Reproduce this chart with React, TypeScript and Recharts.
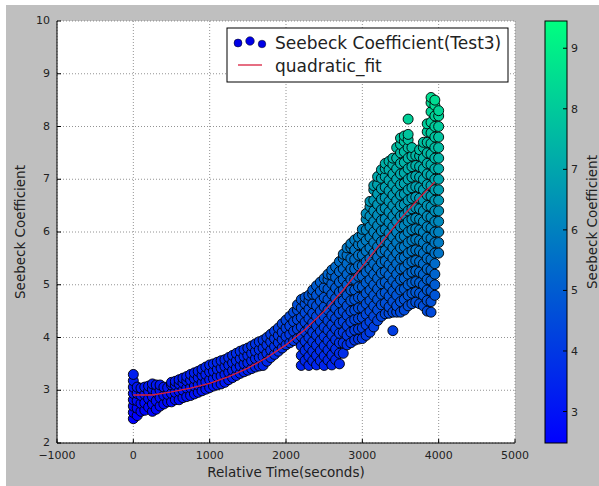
import React from 'react';
import { ScatterChart, Scatter, XAxis, YAxis, CartesianGrid } from 'recharts';

// sample times (s) and the Seebeck readings taken around each of them
const sampleTimes = [
  0, 50, 100, 150, 200, 250, 300, 350, 400, 450,
  500, 550, 600, 650, 700, 750, 800, 850, 900, 950,
  1000, 1050, 1100, 1150, 1200, 1250, 1300, 1350, 1400, 1450,
  1500, 1550, 1600, 1650, 1700, 1750, 1800, 1850, 1900, 1950,
  2000, 2050, 2100, 2150, 2200, 2250, 2300, 2350, 2400, 2450,
  2500, 2550, 2600, 2650, 2700, 2750, 2800, 2850, 2900, 2950,
  3000, 3050, 3100, 3150, 3200, 3250, 3300, 3350, 3400, 3450,
  3500, 3550, 3600, 3650, 3700, 3750, 3800, 3850, 3900, 3950, 4000,
];

const seebeckByTime = [
  [2.46, 2.58, 2.7, 2.82, 2.94, 3.06, 3.18, 3.3],
  [2.52, 2.66, 2.8, 2.94, 3.06],
  [2.6, 2.75, 2.9, 3.04],
  [2.62, 2.76, 2.92, 3.06],
  [2.68, 2.84, 2.98, 3.08],
  [2.6, 2.74, 2.88, 3.02, 3.12],
  [2.64, 2.8, 2.96, 3.1],
  [2.7, 2.86, 3.0, 3.1],
  [2.74, 2.9, 3.06],
  [2.78, 2.92, 3.05],
  [2.78, 2.94, 3.1, 3.15],
  [2.82, 2.96, 3.1, 3.17],
  [2.82, 2.98, 3.12, 3.2],
  [2.86, 3.0, 3.14, 3.23],
  [2.88, 3.04, 3.18, 3.26],
  [2.9, 3.05, 3.19, 3.3],
  [2.93, 3.08, 3.22, 3.33],
  [2.96, 3.1, 3.24, 3.36],
  [2.99, 3.14, 3.28, 3.4],
  [3.02, 3.16, 3.3, 3.44],
  [3.05, 3.2, 3.35, 3.48],
  [3.08, 3.22, 3.36, 3.5],
  [3.1, 3.26, 3.4, 3.53],
  [3.12, 3.27, 3.42, 3.56],
  [3.15, 3.3, 3.45, 3.58],
  [3.2, 3.34, 3.48, 3.62],
  [3.24, 3.38, 3.52, 3.66],
  [3.28, 3.42, 3.56, 3.7],
  [3.32, 3.46, 3.6, 3.74],
  [3.35, 3.5, 3.64, 3.77],
  [3.38, 3.52, 3.66, 3.8],
  [3.41, 3.56, 3.7, 3.84],
  [3.44, 3.6, 3.74, 3.88],
  [3.46, 3.62, 3.77, 3.92],
  [3.47, 3.64, 3.8, 3.95],
  [3.55, 3.7, 3.86, 4.0],
  [3.62, 3.76, 3.92, 4.06],
  [3.68, 3.83, 3.98, 4.12],
  [3.74, 3.9, 4.04, 4.18],
  [3.8, 3.96, 4.1, 4.26],
  [3.86, 4.02, 4.18, 4.33],
  [3.9, 4.06, 4.22, 4.4],
  [3.94, 4.12, 4.3, 4.48],
  [3.98, 4.16, 4.34, 4.52, 4.62],
  [3.47, 3.66, 3.84, 4.02, 4.2, 4.38, 4.56, 4.72],
  [3.56, 3.75, 3.93, 4.11, 4.29, 4.47, 4.64, 4.76],
  [3.47, 3.64, 3.82, 4.0, 4.18, 4.36, 4.54, 4.7, 4.8],
  [3.56, 3.74, 3.92, 4.1, 4.28, 4.46, 4.64, 4.82, 4.9],
  [3.48, 3.66, 3.85, 4.04, 4.22, 4.4, 4.6, 4.8, 4.98],
  [3.56, 3.75, 3.94, 4.12, 4.31, 4.5, 4.69, 4.88, 5.05],
  [3.47, 3.65, 3.84, 4.02, 4.2, 4.4, 4.58, 4.76, 4.95, 5.12],
  [3.57, 3.76, 3.94, 4.14, 4.32, 4.52, 4.72, 4.92, 5.1, 5.2],
  [3.48, 3.67, 3.86, 4.05, 4.24, 4.42, 4.62, 4.82, 5.02, 5.18, 5.28],
  [3.58, 3.78, 3.96, 4.16, 4.36, 4.55, 4.74, 4.94, 5.14, 5.34],
  [3.5, 3.7, 3.9, 4.08, 4.27, 4.46, 4.66, 4.86, 5.05, 5.25, 5.44],
  [3.7, 3.9, 4.1, 4.3, 4.5, 4.7, 4.9, 5.1, 5.3, 5.5, 5.58],
  [3.86, 4.04, 4.22, 4.42, 4.6, 4.8, 5.0, 5.2, 5.4, 5.56, 5.7],
  [3.9, 4.1, 4.3, 4.5, 4.7, 4.9, 5.1, 5.3, 5.5, 5.7, 5.78],
  [3.95, 4.14, 4.34, 4.52, 4.72, 4.9, 5.1, 5.3, 5.48, 5.66, 5.85],
  [3.97, 4.16, 4.36, 4.56, 4.76, 4.96, 5.16, 5.36, 5.56, 5.76, 5.9],
  [3.98, 4.18, 4.38, 4.56, 4.76, 4.96, 5.16, 5.36, 5.56, 5.76, 5.95, 6.05],
  [4.04, 4.24, 4.44, 4.64, 4.84, 5.04, 5.24, 5.44, 5.64, 5.84, 6.04, 6.24, 6.35],
  [4.1, 4.3, 4.5, 4.7, 4.9, 5.1, 5.3, 5.5, 5.7, 5.9, 6.1, 6.3, 6.48, 6.58],
  [4.2, 4.4, 4.6, 4.8, 5.0, 5.2, 5.4, 5.6, 5.8, 6.0, 6.2, 6.4, 6.6, 6.8, 6.88],
  [4.32, 4.52, 4.72, 4.92, 5.12, 5.32, 5.52, 5.72, 5.92, 6.12, 6.32, 6.52, 6.72, 6.9, 7.05],
  [4.4, 4.62, 4.82, 5.02, 5.22, 5.42, 5.62, 5.82, 6.02, 6.22, 6.42, 6.62, 6.82, 7.02, 7.18],
  [4.45, 4.65, 4.85, 5.05, 5.25, 5.45, 5.65, 5.85, 6.05, 6.25, 6.45, 6.65, 6.85, 7.05, 7.2, 7.3],
  [4.46, 4.58, 4.78, 4.98, 5.18, 5.38, 5.58, 5.78, 5.98, 6.18, 6.38, 6.58, 6.78, 6.98, 7.18, 7.34],
  [4.13, 4.48, 4.68, 4.88, 5.08, 5.3, 5.5, 5.7, 5.9, 6.1, 6.3, 6.5, 6.7, 6.9, 7.1, 7.28, 7.4],
  [4.48, 4.6, 4.8, 5.0, 5.2, 5.4, 5.6, 5.8, 6.0, 6.2, 6.4, 6.6, 6.8, 7.0, 7.2, 7.4, 7.6],
  [4.48, 4.68, 4.9, 5.1, 5.3, 5.5, 5.7, 5.9, 6.1, 6.3, 6.5, 6.7, 6.9, 7.1, 7.3, 7.5, 7.66, 7.78],
  [4.52, 4.72, 4.92, 5.12, 5.32, 5.52, 5.72, 5.92, 6.12, 6.32, 6.52, 6.72, 6.92, 7.12, 7.32, 7.52, 7.72, 7.82],
  [4.6, 4.8, 5.0, 5.2, 5.4, 5.6, 5.8, 6.0, 6.2, 6.4, 6.6, 6.8, 7.0, 7.2, 7.4, 7.6, 7.75, 7.85, 8.14],
  [4.64, 4.84, 5.04, 5.24, 5.44, 5.64, 5.84, 6.04, 6.24, 6.44, 6.64, 6.84, 7.04, 7.24, 7.44, 7.6],
  [4.67, 4.86, 5.06, 5.26, 5.46, 5.66, 5.86, 6.06, 6.26, 6.46, 6.66, 6.86, 7.06, 7.26, 7.45],
  [4.64, 4.84, 5.04, 5.24, 5.44, 5.64, 5.84, 6.04, 6.24, 6.44, 6.64, 6.84, 7.04, 7.24, 7.44, 7.56],
  [4.6, 4.8, 5.0, 5.2, 5.4, 5.6, 5.8, 6.0, 6.2, 6.4, 6.6, 6.8, 7.0, 7.2, 7.4, 7.6, 7.7],
  [4.5, 4.7, 4.9, 5.1, 5.3, 5.5, 5.7, 5.9, 6.1, 6.3, 6.5, 6.7, 6.9, 7.1, 7.3, 7.5, 7.7, 7.9, 8.05],
  [4.48, 4.68, 4.88, 5.08, 5.28, 5.48, 5.68, 5.88, 6.08, 6.28, 6.48, 6.68, 6.88, 7.08, 7.28, 7.48, 7.68, 7.88, 8.08, 8.28, 8.45, 8.55],
  [4.8, 5.0, 5.2, 5.4, 5.6, 5.8, 6.0, 6.2, 6.4, 6.6, 6.8, 7.0, 7.2, 7.4, 7.6, 7.8, 8.0, 8.2, 8.4, 8.5],
  [5.6, 5.8, 6.0, 6.2, 6.4, 6.6, 6.8, 7.0, 7.2, 7.4, 7.6, 7.8, 8.0, 8.2, 8.3],
];

// quadratic fit curve
const fitTimes = [0, 250, 500, 750, 1000, 1250, 1500, 1750, 2000, 2250, 2500, 2750, 3000, 3250, 3500, 3750, 3950];
const fitValues = [2.91, 2.91, 2.97, 3.04, 3.13, 3.26, 3.42, 3.62, 3.86, 4.15, 4.5, 4.9, 5.35, 5.8, 6.25, 6.65, 6.95];

const xTicks = [-1000, 0, 1000, 2000, 3000, 4000, 5000];
const yTicks = [2, 3, 4, 5, 6, 7, 8, 9, 10];
const colorTicks = [3, 4, 5, 6, 7, 8, 9];
const colorMin = 2.48;
const colorMax = 9.45;

const FONT = '"DejaVu Sans", Verdana, sans-serif';

const points = sampleTimes.flatMap((t, i) => seebeckByTime[i].map((v) => ({ t, v })));
const fitPoints = fitTimes.map((t, i) => ({ t, v: fitValues[i] }));

// matplotlib "winter" colormap
const winter = (v: number) => {
  const f = Math.max(0, Math.min(1, (v - colorMin) / (colorMax - colorMin)));
  return `rgb(0,${Math.round(255 * f)},${Math.round(255 * (1 - 0.5 * f))})`;
};

const fmt = (n: number) => (n < 0 ? `\u2212${Math.abs(n)}` : `${n}`);

const BottomTick = ({ x, y, payload }: any) => (
  <g>
    <line x1={x} x2={x} y1={y} y2={y - 4} stroke="#000" />
    <text x={x} y={y + 16} textAnchor="middle" fontSize={11} fill="#222" fontFamily={FONT}>
      {fmt(payload.value)}
    </text>
  </g>
);

const TopTick = ({ x, y }: any) => <line x1={x} x2={x} y1={y} y2={y + 4} stroke="#000" />;

const LeftTick = ({ x, y, payload }: any) => (
  <g>
    <line x1={x} x2={x + 4} y1={y} y2={y} stroke="#000" />
    <text x={x - 7} y={y + 3} textAnchor="end" fontSize={11} fill="#222" fontFamily={FONT}>
      {payload.value}
    </text>
  </g>
);

const RightTick = ({ x, y }: any) => <line x1={x} x2={x - 4} y1={y} y2={y} stroke="#000" />;

const Dot = ({ cx, cy, payload }: any) => (
  <circle cx={cx} cy={cy} r={5} fill={winter(payload.v)} stroke="#000" strokeOpacity={0.9} strokeWidth={1} />
);

// colorbar geometry (relative to the figure)
const BAR = { x: 539, y: 16, w: 22, h: 422 };
const barY = (v: number) => BAR.y + BAR.h - ((v - colorMin) / (colorMax - colorMin)) * BAR.h;

export default function App() {
  return (
    <div
      style={{
        position: 'absolute',
        left: 6,
        top: 5,
        width: 593,
        height: 481,
        background: '#bfbfbf',
        fontFamily: FONT,
      }}
    >
      <ScatterChart width={593} height={481} margin={{ top: 16, right: 84, bottom: 0, left: 0 }}>
        <CartesianGrid fill="#fff" fillOpacity={1} stroke="#777" strokeDasharray="1 2" strokeWidth={0.8} />
        <XAxis
          dataKey="t"
          type="number"
          domain={[-1000, 5000]}
          ticks={xTicks}
          interval={0}
          height={43}
          tickSize={0}
          tickMargin={0}
          tickLine={false}
          axisLine={{ stroke: '#000' }}
          tick={<BottomTick />}
        />
        <XAxis
          xAxisId="top"
          orientation="top"
          dataKey="t"
          type="number"
          domain={[-1000, 5000]}
          ticks={xTicks}
          interval={0}
          height={0}
          tickSize={0}
          tickMargin={0}
          tickLine={false}
          axisLine={{ stroke: '#000' }}
          tick={<TopTick />}
        />
        <YAxis
          dataKey="v"
          type="number"
          domain={[2, 10]}
          ticks={yTicks}
          interval={0}
          width={51}
          tickSize={0}
          tickMargin={0}
          tickLine={false}
          axisLine={{ stroke: '#000' }}
          tick={<LeftTick />}
        />
        <YAxis
          yAxisId="right"
          orientation="right"
          dataKey="v"
          type="number"
          domain={[2, 10]}
          ticks={yTicks}
          interval={0}
          width={0}
          tickSize={0}
          tickMargin={0}
          tickLine={false}
          axisLine={{ stroke: '#000' }}
          tick={<RightTick />}
        />
        <Scatter
          name="Seebeck Coefficient(Test3)"
          data={points}
          shape={<Dot />}
          isAnimationActive={false}
        />
        <Scatter
          name="quadratic_fit"
          data={fitPoints}
          line={{ stroke: '#d8203e', strokeWidth: 1.3 }}
          lineJointType="linear"
          shape={() => <g />}
          isAnimationActive={false}
        />
      </ScatterChart>

      <svg
        width={593}
        height={481}
        style={{ position: 'absolute', left: 0, top: 0, pointerEvents: 'none' }}
        fontFamily={FONT}
      >
        <defs>
          <linearGradient id="winterGrad" x1="0" y1="1" x2="0" y2="0">
            <stop offset="0" stopColor="#0000ff" />
            <stop offset="1" stopColor="#00ff80" />
          </linearGradient>
        </defs>

        {/* axis titles */}
        <text x={280} y={472} textAnchor="middle" fontSize={13.5} fill="#222">
          Relative Time(seconds)
        </text>
        <text x={19} y={227} textAnchor="middle" fontSize={13.5} fill="#222" transform="rotate(-90 19 227)">
          Seebeck Coefficient
        </text>

        {/* legend */}
        <rect x={221} y={23} width={281} height={54} fill="#fff" stroke="#000" strokeWidth={1} />
        <circle cx={232} cy={38} r={4} fill="#0000e6" stroke="#000" strokeOpacity={0.6} strokeWidth={0.8} />
        <circle cx={244} cy={36} r={4.3} fill="#0000e6" stroke="#000" strokeOpacity={0.6} strokeWidth={0.8} />
        <circle cx={256} cy={39} r={3.8} fill="#0000e6" stroke="#000" strokeOpacity={0.6} strokeWidth={0.8} />
        <text x={269} y={44} fontSize={17} fill="#222">
          Seebeck Coefficient(Test3)
        </text>
        <line x1={232} x2={256} y1={60} y2={60} stroke="#d8203e" strokeWidth={1.3} />
        <text x={269} y={67} fontSize={17} fill="#222">
          quadratic_fit
        </text>

        {/* colorbar */}
        <rect x={BAR.x} y={BAR.y} width={BAR.w} height={BAR.h} fill="url(#winterGrad)" stroke="#000" strokeWidth={1} />
        {colorTicks.map((v) => (
          <g key={v}>
            <line x1={BAR.x + BAR.w} x2={BAR.x + BAR.w - 4} y1={barY(v)} y2={barY(v)} stroke="#000" />
            <text x={BAR.x + BAR.w + 4} y={barY(v) + 4} fontSize={11} fill="#222">
              {v}
            </text>
          </g>
        ))}
        <text x={591} y={217} textAnchor="middle" fontSize={13.5} fill="#222" transform="rotate(-90 591 217)">
          Seebeck Coefficient
        </text>
      </svg>
    </div>
  );
}
